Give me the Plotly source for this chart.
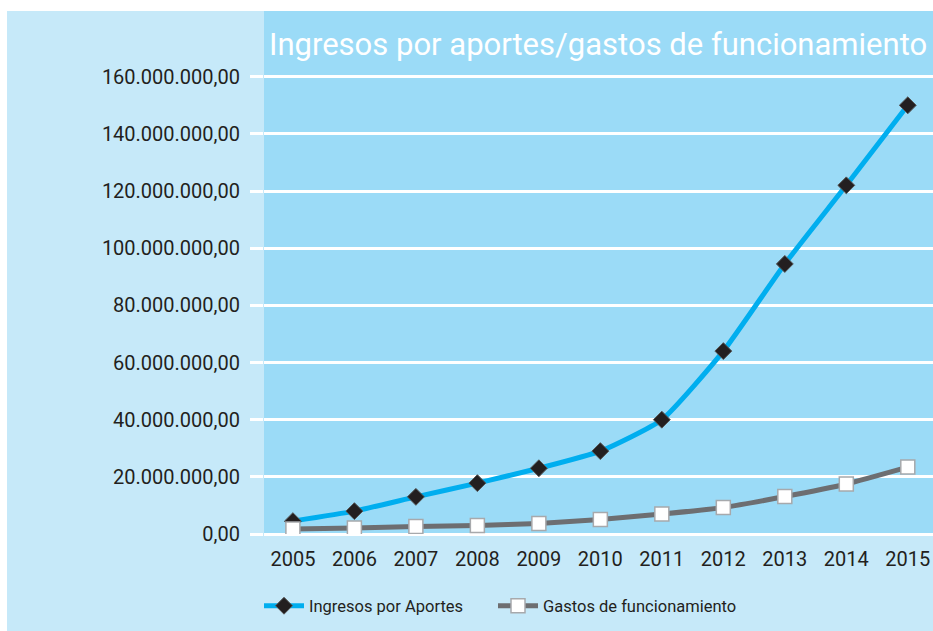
import plotly.graph_objects as go

years = [2005, 2006, 2007, 2008, 2009, 2010, 2011, 2012, 2013, 2014, 2015]
ingresos = [4.5e6, 8.0e6, 13.0e6, 17.8e6, 23.0e6, 29.0e6, 40.0e6, 64.0e6, 94.5e6, 122.0e6, 150.0e6]
gastos = [1.75e6, 2.1e6, 2.6e6, 3.0e6, 3.7e6, 5.1e6, 7.0e6, 9.3e6, 13.1e6, 17.5e6, 23.4e6]
y_ticks = [0, 20e6, 40e6, 60e6, 80e6, 100e6, 120e6, 140e6, 160e6]

TEXT = "#231f20"
FONT = "Roboto"

fig = go.Figure()
fig.add_trace(go.Scatter(
    x=years, y=ingresos, name="Ingresos por Aportes", mode="lines+markers",
    line=dict(color="#00aeef", width=5, shape="spline", smoothing=0.5),
    marker=dict(symbol="diamond", size=13, color="#231f20", line=dict(color="#555555", width=1)),
    legend="legend",
))
fig.add_trace(go.Scatter(
    x=years, y=gastos, name="Gastos de funcionamiento", mode="lines+markers",
    line=dict(color="#6d6e71", width=5, shape="spline", smoothing=0.5),
    marker=dict(symbol="square", size=14, color="white", line=dict(color="#a7a9ac", width=1.5)),
    legend="legend2",
))

W, H = 933, 631
L, R, T, B = 264, 0, 11, 97
PW, PH = W - L - R, H - T - B

legend_common = dict(orientation="h", y=-72 / PH, yanchor="middle",
                     font=dict(size=16.5, color=TEXT), bgcolor="rgba(0,0,0,0)",
                     itemwidth=40)

fig.update_layout(
    width=W, height=H,
    margin=dict(l=L, r=R, t=T, b=B, pad=0),
    paper_bgcolor="#c6e9f9",
    plot_bgcolor="#9bdbf7",
    separators=",.",
    font=dict(family=FONT, color=TEXT),
    showlegend=True,
    legend=dict(x=(259 - L) / PW, xanchor="left", **legend_common),
    legend2=dict(x=(493 - L) / PW, xanchor="left", **legend_common),
    shapes=[
        dict(type="rect", xref="paper", yref="paper", layer="above",
             x0=-L / PW, x1=1.0, y0=1.0, y1=1.0 + T / PH,
             fillcolor="white", line=dict(width=0)),
        dict(type="rect", xref="paper", yref="paper", layer="above",
             x0=-L / PW, x1=(7 - L) / PW, y0=-B / PH, y1=1.0 + T / PH,
             fillcolor="white", line=dict(width=0)),
    ],
    annotations=[dict(text="Ingresos por aportes/gastos de funcionamiento",
                      xref="paper", yref="paper", x=(598 - L) / PW, y=1 - 34 / PH,
                      showarrow=False, xanchor="center", yanchor="middle",
                      font=dict(size=31, color="white", family=FONT))],
)
fig.update_xaxes(
    range=[2004.53, 2015.41], tickvals=years, ticktext=[str(y) for y in years],
    showgrid=False, zeroline=False, showline=False, ticks="",
    tickfont=dict(size=20, color=TEXT), ticklabelstandoff=11,
)
fig.update_yaxes(
    range=[0, 183e6], tickvals=y_ticks, tickformat=",.2f",
    showgrid=True, gridcolor="white", gridwidth=2.5,
    zeroline=True, zerolinecolor="white", zerolinewidth=2.5,
    showline=False, ticks="outside", ticklen=13, tickcolor="white", tickwidth=2.5,
    tickfont=dict(size=20, color=TEXT), ticklabelstandoff=6,
)
fig.write_html("out.html", config={"displayModeBar": False},
               post_script="document.body.style.margin='0';document.body.style.overflow='hidden';")
